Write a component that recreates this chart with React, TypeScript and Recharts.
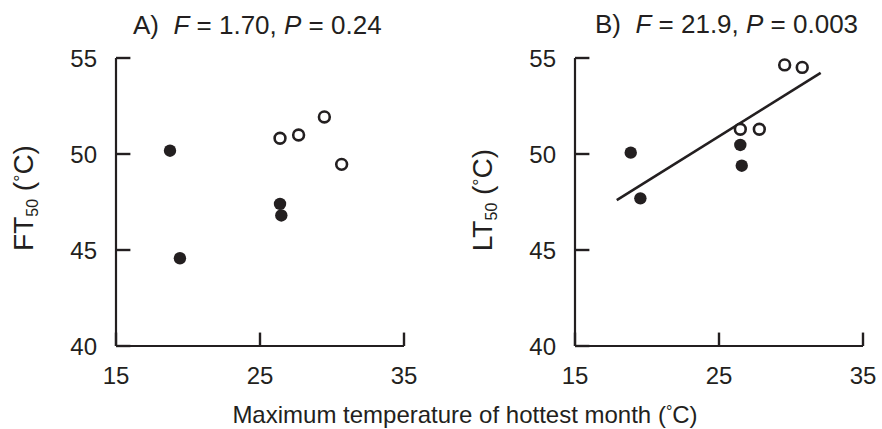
import React from 'react';
import { ScatterChart, Scatter, XAxis, YAxis, ReferenceLine } from 'recharts';

const INK = '#231f20';
const FONT = '"Liberation Sans", Arial, Helvetica, sans-serif';

const xTicks = [15, 25, 35];
const yTicks = [40, 45, 50, 55];

// Panel A: FT50
const ftFilledX = [18.75, 19.44, 26.39, 26.48];
const ftFilledY = [50.17, 44.57, 47.4, 46.8];
const ftOpenX = [26.39, 27.68, 29.47, 30.67];
const ftOpenY = [50.82, 50.99, 51.93, 49.46];

// Panel B: LT50
const ltFilledX = [18.87, 19.54, 26.48, 26.58];
const ltFilledY = [50.07, 47.69, 50.47, 49.39];
const ltOpenX = [26.48, 27.8, 29.56, 30.78];
const ltOpenY = [51.29, 51.29, 54.64, 54.51];

// Regression line in panel B (end points)
const ltFitX = [17.9, 32.06];
const ltFitY = [47.6, 54.23];

const X_MIN = 15;
const Y_MIN = 40;
// inward tick lengths in axis units (~14px)
const Y_TICK_LEN = 1.0;
const X_TICK_LEN = 0.7;

const zip = (xs: number[], ys: number[]) => xs.map((x, i) => ({ x, y: ys[i] }));

const FilledDot = (p: any) => <circle cx={p.cx} cy={p.cy} r={6.2} fill={INK} />;
const OpenDot = (p: any) => (
  <circle cx={p.cx} cy={p.cy} r={5.4} fill="#fff" stroke={INK} strokeWidth={2.6} />
);

const XTick = (p: any) => (
  <text x={p.x} y={p.y + 21} dy="0.71em" textAnchor="middle" fill={INK} fontSize={24} fontFamily={FONT}>
    {p.payload.value}
  </text>
);

const YTick = (p: any) => (
  <text x={p.x - 19} y={p.y} dy="0.355em" textAnchor="end" fill={INK} fontSize={24} fontFamily={FONT}>
    {p.payload.value}
  </text>
);

const Y_W = 60;
const X_H = 40;

type PanelProps = {
  left: number;
  margin: { top: number; right: number; bottom: number; left: number };
  filled: { x: number; y: number }[];
  open: { x: number; y: number }[];
  fit?: { x: number; y: number }[];
};

const Panel = ({ left, margin, filled, open, fit }: PanelProps) => (
  <div style={{ position: 'absolute', left, top: 0 }}>
    <ScatterChart width={441} height={429} margin={margin}>
      <XAxis
        type="number"
        dataKey="x"
        domain={[15, 35]}
        ticks={xTicks}
        interval={0}
        height={X_H}
        tickSize={0}
        tickMargin={0}
        axisLine={{ stroke: INK, strokeWidth: 2.2 }}
        tickLine={false}
        tick={XTick}
        allowDataOverflow
      />
      <YAxis
        type="number"
        dataKey="y"
        domain={[40, 55]}
        ticks={yTicks}
        interval={0}
        width={Y_W}
        tickSize={0}
        tickMargin={0}
        axisLine={{ stroke: INK, strokeWidth: 2.2 }}
        tickLine={false}
        tick={YTick}
        allowDataOverflow
      />
      {xTicks.map((t) => (
        <ReferenceLine
          key={'xt' + t}
          segment={[{ x: t, y: Y_MIN }, { x: t, y: Y_MIN + X_TICK_LEN }]}
          stroke={INK}
          strokeWidth={2.4}
          ifOverflow="visible"
        />
      ))}
      {yTicks.map((t) => (
        <ReferenceLine
          key={'yt' + t}
          segment={[{ x: X_MIN, y: t }, { x: X_MIN + Y_TICK_LEN, y: t }]}
          stroke={INK}
          strokeWidth={2.4}
          ifOverflow="visible"
        />
      ))}
      {fit && (
        <ReferenceLine segment={fit} stroke={INK} strokeWidth={2.6} ifOverflow="visible" />
      )}
      <Scatter data={filled} shape={FilledDot} isAnimationActive={false} />
      <Scatter data={open} shape={OpenDot} isAnimationActive={false} />
    </ScatterChart>
  </div>
);

export default function App() {
  return (
    <div
      style={{
        position: 'absolute',
        left: 0,
        top: 0,
        width: 882,
        height: 429,
        background: '#fff',
        fontFamily: FONT,
      }}
    >
      <svg
        width={882}
        height={429}
        style={{ position: 'absolute', left: 0, top: 0, pointerEvents: 'none' }}
      >
        <g fill={INK} fontFamily={FONT}>
          <text x={133} y={34} fontSize={26}>
            <tspan>{'A)\u00A0\u00A0'}</tspan>
            <tspan fontStyle="italic">F</tspan>
            <tspan>{'\u00A0= 1.70,\u00A0'}</tspan>
            <tspan fontStyle="italic">P</tspan>
            <tspan>{'\u00A0= 0.24'}</tspan>
          </text>
          <text x={595} y={33} fontSize={26}>
            <tspan>{'B)\u00A0\u00A0'}</tspan>
            <tspan fontStyle="italic">F</tspan>
            <tspan>{'\u00A0= 21.9,\u00A0'}</tspan>
            <tspan fontStyle="italic">P</tspan>
            <tspan>{'\u00A0= 0.003'}</tspan>
          </text>
          <text transform="translate(33,198) rotate(-90)" textAnchor="middle" fontSize={28}>
            <tspan>FT</tspan>
            <tspan fontSize={16} dy={5}>50</tspan>
            <tspan dy={-5}>{'\u00A0('}</tspan>
            <tspan fontSize={18} dy={-6}>°</tspan>
            <tspan dy={6}>C)</tspan>
          </text>
          <text transform="translate(492,200) rotate(-90)" textAnchor="middle" fontSize={28}>
            <tspan>LT</tspan>
            <tspan fontSize={16} dy={5}>50</tspan>
            <tspan dy={-5}>{'\u00A0('}</tspan>
            <tspan fontSize={18} dy={-6}>°</tspan>
            <tspan dy={6}>C)</tspan>
          </text>
          <text x={465} y={423} textAnchor="middle" fontSize={24}>
            <tspan>Maximum temperature of hottest month (</tspan>
            <tspan fontSize={16} dy={-6}>°</tspan>
            <tspan dy={6}>C)</tspan>
          </text>
        </g>
      </svg>
      <Panel
        left={0}
        margin={{ top: 58, right: 37, bottom: 83 - X_H, left: 116 - Y_W }}
        filled={zip(ftFilledX, ftFilledY)}
        open={zip(ftOpenX, ftOpenY)}
      />
      <Panel
        left={441}
        margin={{ top: 58, right: 19, bottom: 83 - X_H, left: 134 - Y_W }}
        filled={zip(ltFilledX, ltFilledY)}
        open={zip(ltOpenX, ltOpenY)}
        fit={zip(ltFitX, ltFitY)}
      />
    </div>
  );
}
